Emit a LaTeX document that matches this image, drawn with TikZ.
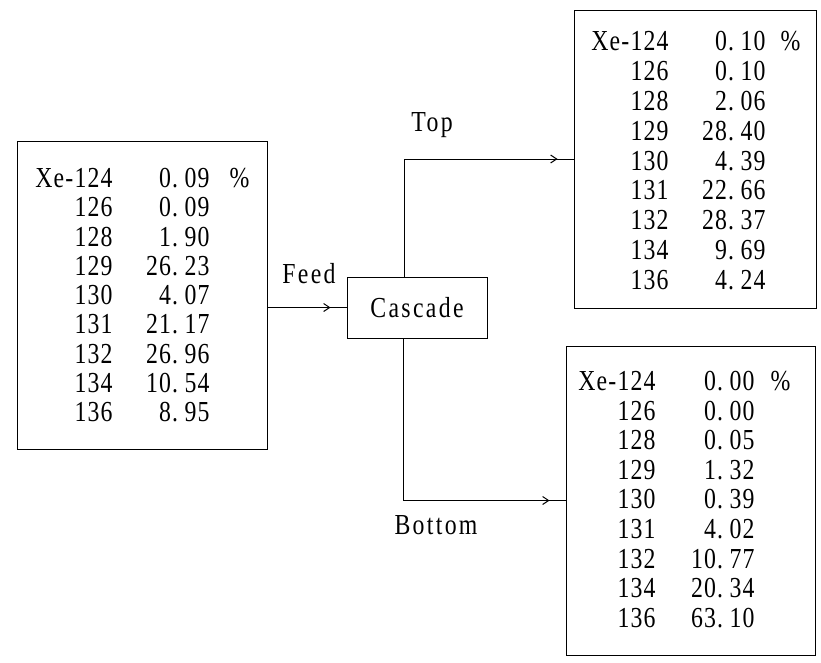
\documentclass[tikz,border=0pt]{standalone}
\usepackage{fontspec}
\setmainfont{Liberation Serif}[FakeStretch=0.82,LetterSpace=4]
\usetikzlibrary{arrows.meta,decorations.markings,calc}
\newcommand\pd{.\hspace{0.22em}}
\begin{document}
\begin{tikzpicture}[x=1pt,y=-1pt,line width=1pt,
  font=\fontsize{29}{29}\selectfont,
  box/.style={draw,line width=1pt,inner sep=0pt},
  lbl/.style={inner sep=0pt},
  tag/.style={inner sep=0pt,font=\fontsize{29}{29}\selectfont\addfontfeature{LetterSpace=8}},
  conn/.style={line width=1pt,postaction={decorate},
    decoration={markings,mark=at position -16pt with {\arrow{Straight Barb[length=6pt,width=8pt]}}}}]
\useasboundingbox (0,0) rectangle (821,662);
% boxes
\node[box,minimum width=250pt,minimum height=308pt] (lb) at (142,295) {};
\node[box,minimum width=140pt,minimum height=61pt] (casc) at (417,307.5) {};
\node[tag] (cascT) at (casc.center) {Cascade};
\node[box,minimum width=242pt,minimum height=298pt] (tr) at (695,159) {};
\node[box,minimum width=249pt,minimum height=309pt] (br) at (690.5,500.5) {};
% labels
\node[tag] (feedL) at (309,274) {Feed};
\node[tag] (topL) at (432,125) {Top};
\node[tag] (botL) at (436,525) {Bottom};
% connectors
\draw[conn] (lb.east |- casc.west) -- (casc.west);
\draw[conn] ($(casc.north)+(-13,0)$) |- (tr.west);
\draw[conn] ($(casc.south)+(-14,0)$) |- (br.west);
% left table
\foreach [count=\i] \a/\b in {Xe-124/0\pd09,126/0\pd09,128/1\pd90,129/26\pd23,130/4\pd07,131/21\pd17,132/26\pd96,134/10\pd54,136/8\pd95}{
  \node[lbl,anchor=east] (la\i) at (113,{178+(\i-1)*29.3}) {\a};
  \node[lbl,anchor=east] (lv\i) at (210,{178+(\i-1)*29.3}) {\b};
}
\node[lbl,anchor=west] (lpc) at (229,178) {\%};
% top-right table
\foreach [count=\i] \a/\b in {Xe-124/0\pd10,126/0\pd10,128/2\pd06,129/28\pd40,130/4\pd39,131/22\pd66,132/28\pd37,134/9\pd69,136/4\pd24}{
  \node[lbl,anchor=east] (ta\i) at (669,{41+(\i-1)*29.9}) {\a};
  \node[lbl,anchor=east] (tv\i) at (766,{41+(\i-1)*29.9}) {\b};
}
\node[lbl,anchor=west] (tpc) at (780,41) {\%};
% bottom-right table
\foreach [count=\i] \a/\b in {Xe-124/0\pd00,126/0\pd00,128/0\pd05,129/1\pd32,130/0\pd39,131/4\pd02,132/10\pd77,134/20\pd34,136/63\pd10}{
  \node[lbl,anchor=east] (ba\i) at (656,{381+(\i-1)*29.6}) {\a};
  \node[lbl,anchor=east] (bv\i) at (755,{381+(\i-1)*29.6}) {\b};
}
\node[lbl,anchor=west] (bpc) at (770,381) {\%};
\end{tikzpicture}
\end{document}
